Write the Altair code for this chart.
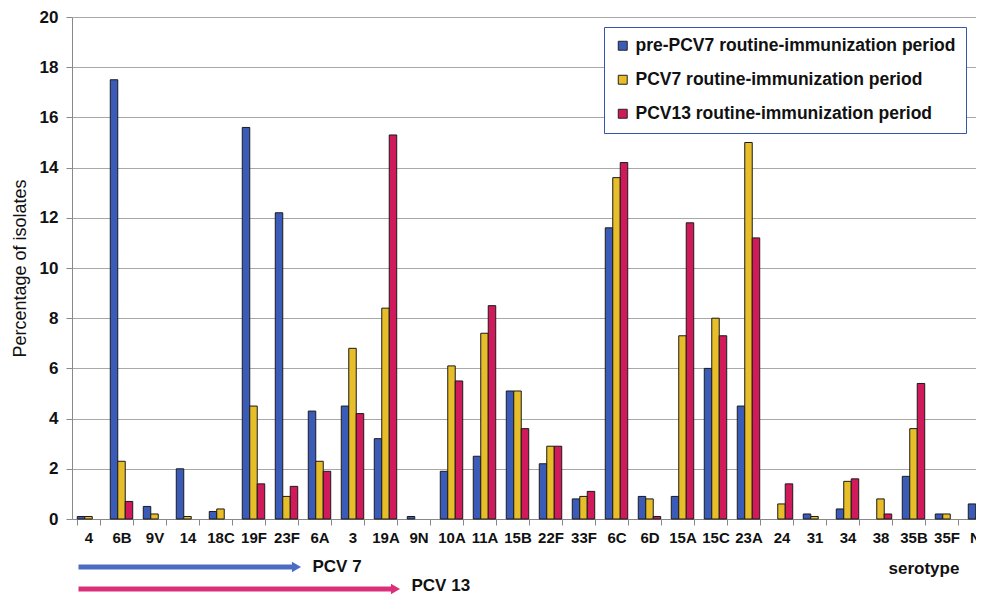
import altair as alt
import pandas as pd

categories = ["4", "6B", "9V", "14", "18C", "19F", "23F", "6A", "3", "19A", "9N", "10A", "11A", "15B",
              "22F", "33F", "6C", "6D", "15A", "15C", "23A", "24", "31", "34", "38", "35B", "35F", "NT"]
pre_pcv7 = [0.1, 17.5, 0.5, 2.0, 0.3, 15.6, 12.2, 4.3, 4.5, 3.2, 0.1, 1.9, 2.5, 5.1,
            2.2, 0.8, 11.6, 0.9, 0.9, 6.0, 4.5, 0.0, 0.2, 0.4, 0.0, 1.7, 0.2, 0.6]
pcv7 = [0.1, 2.3, 0.2, 0.1, 0.4, 4.5, 0.9, 2.3, 6.8, 8.4, 0.0, 6.1, 7.4, 5.1,
        2.9, 0.9, 13.6, 0.8, 7.3, 8.0, 15.0, 0.6, 0.1, 1.5, 0.8, 3.6, 0.2, 0.1]
pcv13 = [0.0, 0.7, 0.0, 0.0, 0.0, 1.4, 1.3, 1.9, 4.2, 15.3, 0.0, 5.5, 8.5, 3.6,
         2.9, 1.1, 14.2, 0.1, 11.8, 7.3, 11.2, 1.4, 0.0, 1.6, 0.2, 5.4, 0.0, 0.3]
series_names = ["pre-PCV7 routine-immunization period",
                "PCV7 routine-immunization period",
                "PCV13 routine-immunization period"]
series_colors = ["#3a5cb8", "#e8bd2a", "#d01a5c"]

arrow_starts = ["4", "4"]
arrow_ends = ["23F", "19A"]
arrow_labels = ["PCV 7", "PCV 13"]
arrow_colors = ["#4a6cc2", "#d93079"]
arrow_y = [550, 572]
label_y = [550, 569]

rows = []
for s, vals in zip(series_names, [pre_pcv7, pcv7, pcv13]):
    for c, v in zip(categories, vals):
        rows.append({"serotype": c, "period": s, "value": v})
df = pd.DataFrame(rows)

FONT = "Liberation Sans"

xscale = alt.Scale(domain=categories, range=[0, 924], paddingInner=0.32, paddingOuter=0.16)

bars = alt.Chart(df).transform_filter("datum.value > 0").mark_bar(
    stroke="#1a1a1a", strokeWidth=1
).encode(
    x=alt.X("serotype:N", sort=categories, scale=xscale,
            axis=alt.Axis(title="serotype", labelAngle=0, labelFont=FONT, labelFontSize=15,
                          labelFontWeight="bold", labelColor="#111", tickBand="extent",
                          tickColor="#888", tickSize=6, domainColor="#888", labelPadding=5,
                          titleFont=FONT, titleFontSize=17, titleFontWeight="bold",
                          titleColor="#111", titleX=816, titleY=49, titleAlign="left",
                          titleBaseline="middle", titleAnchor="start")),
    xOffset=alt.XOffset("period:N", sort=series_names,
                        scale=alt.Scale(domain=series_names, paddingInner=0, paddingOuter=0)),
    y=alt.Y("value:Q", scale=alt.Scale(domain=[0, 20], nice=False),
            axis=alt.Axis(title="Percentage of isolates", values=list(range(0, 21, 2)),
                          labelFont=FONT, labelFontSize=17, labelFontWeight="bold",
                          labelColor="#111", labelPadding=8, tickColor="#888", tickSize=6,
                          domainColor="#888", gridColor="#a8a8a8", gridWidth=1,
                          titleFont=FONT, titleFontSize=18, titleFontWeight="normal",
                          titleColor="#111", titlePadding=10)),
    color=alt.Color("period:N", sort=series_names,
                    scale=alt.Scale(domain=series_names, range=series_colors),
                    legend=alt.Legend(title=None, orient="none", legendX=532, legendY=10,
                                      labelFont=FONT, labelFontSize=17.5, labelFontWeight="bold",
                                      labelColor="#111", symbolType="square", symbolSize=80,
                                      symbolStrokeColor="#222", symbolStrokeWidth=1,
                                      symbolOpacity=1, rowPadding=15, labelOffset=4,
                                      padding=10, strokeColor="#3556b0", fillColor="white",
                                      labelLimit=500)),
)

layers = [bars]
for st, en, lab, col, yv, ty in zip(arrow_starts, arrow_ends, arrow_labels, arrow_colors, arrow_y, label_y):
    adf = pd.DataFrame({"start": [st], "end": [en], "label": [lab]})
    base = alt.Chart(adf)
    line = base.mark_rule(color=col, strokeWidth=5, xOffset=-10, x2Offset=6).encode(
        x=alt.X("start:N", sort=categories, scale=xscale),
        x2="end:N",
        y=alt.value(yv),
    )
    head = base.mark_point(shape="triangle-right", filled=True, color=col, size=110,
                           opacity=1, xOffset=10).encode(
        x=alt.X("end:N", sort=categories, scale=xscale),
        y=alt.value(yv),
    )
    text = base.mark_text(align="left", baseline="middle", font=FONT, fontSize=17,
                          fontWeight="bold", color="#111", dx=26).encode(
        x=alt.X("end:N", sort=categories, scale=xscale),
        y=alt.value(ty),
        text="label:N",
    )
    layers += [line, head, text]

chart = alt.layer(*layers).properties(
    width=900, height=502,
    autosize=alt.AutoSizeParams(type="none"),
    padding={"left": 64, "top": 9, "right": 4, "bottom": 75},
).configure_view(strokeWidth=0)

chart.save("out.html", embed_options={"renderer": "svg", "actions": False})
